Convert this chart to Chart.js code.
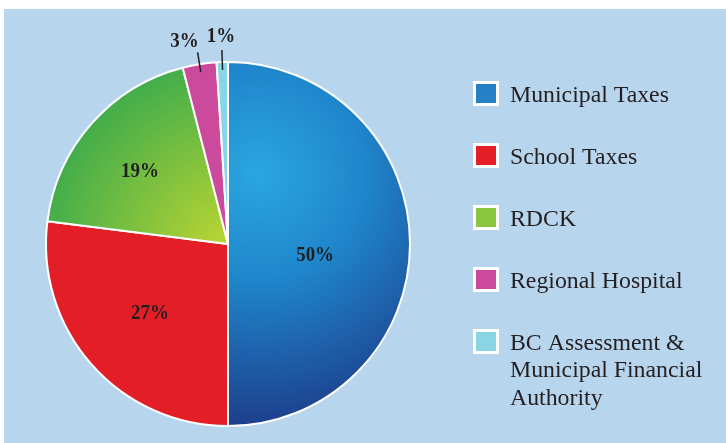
<!DOCTYPE html>
<html>
<head>
<meta charset="utf-8">
<script src="https://cdn.jsdelivr.net/npm/chart.js@4.4.0/dist/chart.umd.min.js"></script>
<style>
html, body { margin: 0; padding: 0; background: #fff; }
#wrap { width: 726px; height: 443px; }
</style>
</head>
<body>
<div id="wrap"><canvas id="taxChart" width="726" height="443"></canvas></div>
<script>
// values
const categories = ['Municipal Taxes', 'School Taxes', 'RDCK', 'Regional Hospital', 'BC Assessment & Municipal Financial Authority'];
const legendLines = [['Municipal Taxes'], ['School Taxes'], ['RDCK'], ['Regional Hospital'], ['BC Assessment &', 'Municipal Financial', 'Authority']];
const shares = [50, 27, 19, 3, 1];
const legendColors = ['#2680c6', '#e41e26', '#8cc63f', '#cc4a9b', '#8ad5e3'];

const textColor = '#231f20';

// gradients for the blue and green slices
function sliceFill(context) {
    const i = context.dataIndex;
    const chart = context.chart;
    const area = chart.chartArea;
    if (!area) return legendColors[i];
    const cx = (area.left + area.right) / 2;
    const cy = (area.top + area.bottom) / 2;
    const r = Math.min(area.width, area.height) / 2;
    const ctx = chart.ctx;
    if (i === 0) {
        const g = ctx.createRadialGradient(cx + 30, cy - 70, 0, cx + 30, cy - 70, r * 1.45);
        g.addColorStop(0, '#2ba6e0');
        g.addColorStop(0.4, '#1f86cb');
        g.addColorStop(1, '#1d3886');
        return g;
    }
    if (i === 2) {
        const g = ctx.createRadialGradient(cx + 10, cy + 10, 0, cx + 10, cy + 10, r * 1.05);
        g.addColorStop(0.1, '#b8d433');
        g.addColorStop(1, '#45ae4a');
        return g;
    }
    return legendColors[i];
}

const background = {
    id: 'background',
    beforeDraw(chart) {
        const ctx = chart.ctx;
        ctx.save();
        ctx.fillStyle = '#ffffff';
        ctx.fillRect(0, 0, chart.width, chart.height);
        ctx.fillStyle = '#b8d5ee';
        ctx.fillRect(4, 9, chart.width - 4, chart.height - 9);
        ctx.restore();
    }
};

// condensed bold serif, like the print original
function pctText(ctx, text, x, y) {
    ctx.save();
    ctx.translate(x, y);
    ctx.scale(0.86, 1);
    ctx.fillText(text, 0, 0);
    ctx.restore();
}

const pctLabels = {
    id: 'pctLabels',
    afterDatasetsDraw(chart, args, opts) {
        const ctx = chart.ctx;
        const meta = chart.getDatasetMeta(0);
        ctx.save();
        ctx.font = 'bold 22px "Liberation Serif"';
        ctx.fillStyle = textColor;
        ctx.strokeStyle = textColor;
        meta.data.forEach((arc, i) => {
            const p = arc.getProps(['x', 'y', 'startAngle', 'endAngle', 'outerRadius'], true);
            const mid = (p.startAngle + p.endAngle) / 2;
            const dx = Math.cos(mid), dy = Math.sin(mid);
            const r = p.outerRadius;
            const text = shares[i] + '%';
            if (shares[i] >= 10) {
                const d = r * 0.55;
                const nudge = opts.nudge[i] || [0, 0];
                ctx.textAlign = 'center';
                ctx.textBaseline = 'middle';
                pctText(ctx, text, p.x + dx * d + nudge[0], p.y + dy * d + nudge[1]);
            } else {
                const ex = p.x + dx * (r + 12), ey = p.y + dy * (r + 12);
                ctx.lineWidth = 1.5;
                ctx.beginPath();
                ctx.moveTo(p.x + dx * (r - 8), p.y + dy * (r - 8));
                ctx.lineTo(ex, ey);
                ctx.stroke();
                ctx.textBaseline = 'alphabetic';
                if (dx < -0.1) {
                    ctx.textAlign = 'right';
                    pctText(ctx, text, ex + 1, ey - 5);
                } else {
                    ctx.textAlign = 'center';
                    pctText(ctx, text, ex - 1, ey - 8);
                }
            }
        });
        ctx.restore();
    }
};

const sideLegend = {
    id: 'sideLegend',
    afterDraw(chart) {
        const ctx = chart.ctx;
        ctx.save();
        ctx.font = '23.8px "Liberation Serif"';
        ctx.textAlign = 'left';
        ctx.textBaseline = 'alphabetic';
        let y = 93.5;
        legendLines.forEach((lines, i) => {
            ctx.fillStyle = '#ffffff';
            ctx.fillRect(473, y - 12.5, 26, 25);
            ctx.fillStyle = legendColors[i];
            ctx.fillRect(476, y - 9.5, 20, 19);
            ctx.fillStyle = textColor;
            lines.forEach((ln, k) => ctx.fillText(ln, 510, y + 8 + k * 27.5));
            y += 62;
        });
        ctx.restore();
    }
};

const ctx = document.getElementById('taxChart').getContext('2d');
const taxChart = new Chart(ctx, {
    type: 'pie',
    data: {
        labels: categories,
        datasets: [{
            data: shares,
            backgroundColor: sliceFill,
            borderColor: '#ffffff',
            borderWidth: 2,
            hoverOffset: 0
        }]
    },
    options: {
        responsive: false,
        animation: false,
        layout: {
            padding: { left: 45, right: 315, top: 61, bottom: 16 }
        },
        plugins: {
            legend: { display: false },
            tooltip: { enabled: false },
            pctLabels: { nudge: [[-13, 11], [-3, 3], [-13, -6]] }
        }
    },
    plugins: [background, pctLabels, sideLegend]
});
</script>
</body>
</html>
